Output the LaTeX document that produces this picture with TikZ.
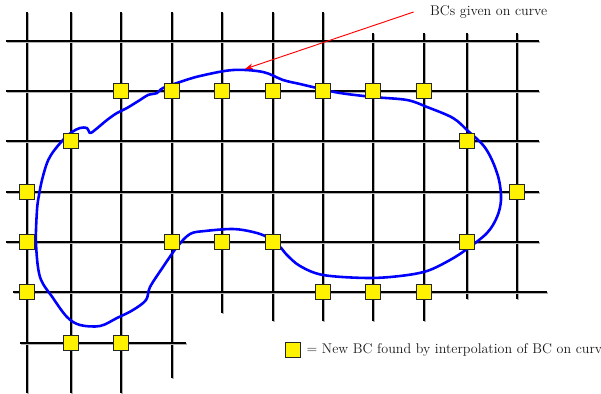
\documentclass[tikz,border=0pt]{standalone}
\usepackage{tikz}
\usetikzlibrary{arrows.meta,positioning,shadows}

\tikzset{
  gridline/.style={line width=1.1pt, black,
    preaction={draw=black!30, line width=1.3pt, transform canvas={xshift=0.9pt, yshift=-0.9pt}}},
  bcsq/.style={draw=black!85, fill=yellow, line width=0.7pt, minimum size=0.43cm, inner sep=0pt,
    drop shadow={opacity=0.35, shadow xshift=0.9pt, shadow yshift=-0.9pt}},
  bdry/.style={blue, line width=2.2pt, line join=round},
  lbl/.style={font=\fontsize{12}{14}\selectfont, text=black!90, inner sep=0pt}
}

\begin{document}
\begin{tikzpicture}[x=0.03cm, y=-0.03cm]
  \useasboundingbox (0,0) rectangle (601,393);

  % grid, vertical lines: x / top / bottom
  \foreach \gx/\gt/\gb in {27/12/393, 71/12/393, 121/12/393, 172/12/378, 222/12/313, 273/12/321,
      323/12/321, 373/33/321, 424/33/321, 467/33/299, 517/33/299}
    \draw[gridline] (\gx,\gt) -- (\gx,\gb);
  % grid, horizontal lines: y / left / right
  \foreach \gy/\gl/\gr in {41/6/539, 91/6/539, 141/6/539, 192/6/539, 242/6/539, 292/13/547, 343/20/186}
    \draw[gridline] (\gl,\gy) -- (\gr,\gy);

  % the curve
  \draw[bdry] plot[smooth cycle, tension=0.55] coordinates {
    (200,76) (233,70) (263,72) (283,80) (300,84) (317,88) (340,93) (373,97) (407,100) (427,107)
    (453,118) (468,131) (483,145) (492,160) (499,180) (501,200) (497,217) (487,233) (467,249)
    (450,260) (427,271) (400,276) (367,278) (323,275) (300,266) (287,255) (280,247) (267,237)
    (253,232) (233,229) (205,231) (190,234) (177,247) (163,267) (150,287) (146,300) (133,310)
    (117,318) (100,326) (80,325) (67,317) (53,298) (40,277) (36,243) (37,210) (39,195) (42,180)
    (47,163) (53,152) (63,140) (72,132) (80,128) (87,128) (90,133) (95,130) (107,120) (117,113)
    (127,108) (140,100) (148,95) (157,93) (163,88) (180,82)};

  % interpolated BCs
  \foreach \px/\py [count=\i] in {121/91, 172/91, 222/91, 273/91, 323/91, 373/91, 424/91,
      71/141, 467/141, 27/192, 517/192, 27/242, 172/242, 222/242, 273/242, 467/242,
      27/292, 323/292, 373/292, 424/292, 71/343, 121/343}
    \node[bcsq] (bc\i) at (\px,\py) {};

  % callout
  \node[lbl, anchor=west] (given) at (430,12) {BCs given on curve};
  \coordinate (top) at (245,69);
  \draw[red, line width=0.8pt, -{Stealth[length=7pt, width=5pt]}] (given.west) ++(-14pt,0) coordinate (gstart)
    (gstart) -- (top);

  % legend
  \node[bcsq] (key) at (293,350) {};
  \node[lbl, anchor=west, right=5pt of key] (keytext) {= New BC found by interpolation of BC on curve};
\end{tikzpicture}
\end{document}
